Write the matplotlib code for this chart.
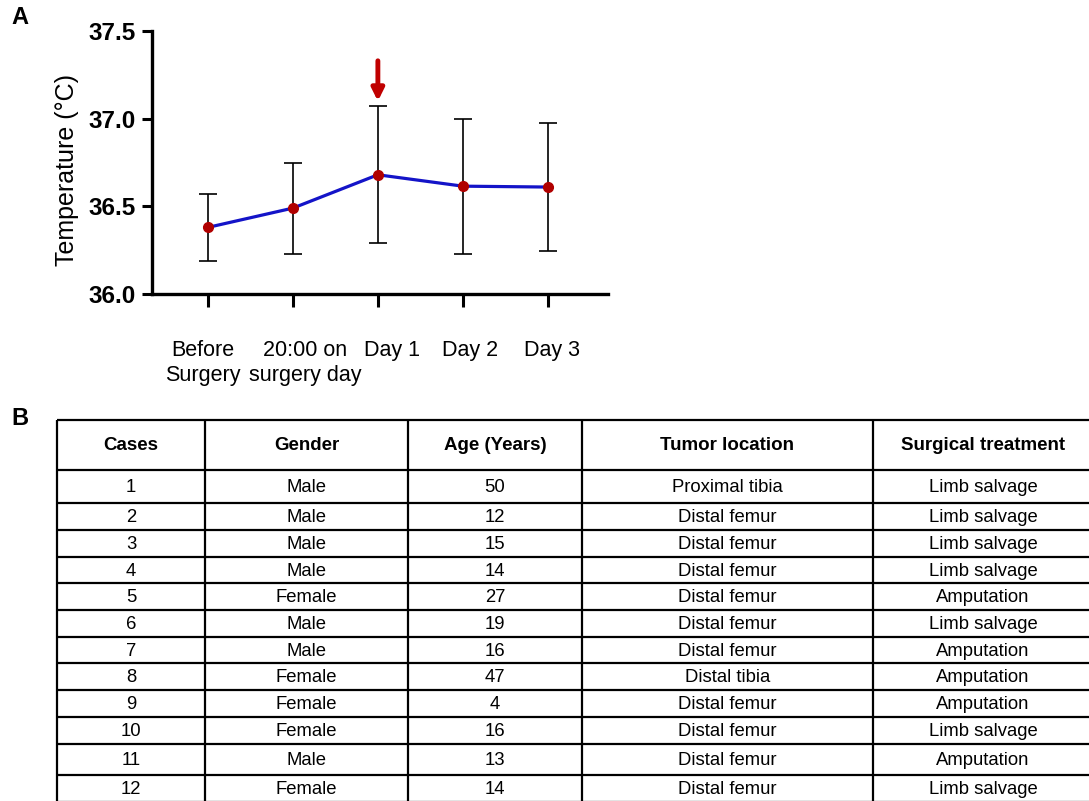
import numpy as np
import matplotlib.pyplot as plt
import matplotlib.transforms as mtransforms

plt.rcParams['font.family'] = ['Liberation Sans', 'DejaVu Sans']

# panel A data
time_labels = ['Before\nSurgery', '20:00 on\nsurgery day', 'Day 1', 'Day 2', 'Day 3']
temp_mean = [36.38, 36.49, 36.68, 36.615, 36.61]
temp_sd = [0.19, 0.26, 0.39, 0.385, 0.365]
label_shift_px = [-5, 12, 14, 7, 4]

# panel B data
col_names = ['Cases', 'Gender', 'Age (Years)', 'Tumor location', 'Surgical treatment']
cases = [str(i) for i in range(1, 13)]
gender = ['Male', 'Male', 'Male', 'Male', 'Female', 'Male', 'Male',
          'Female', 'Female', 'Female', 'Male', 'Female']
age = ['50', '12', '15', '14', '27', '19', '16', '47', '4', '16', '13', '14']
location = ['Proximal tibia', 'Distal femur', 'Distal femur', 'Distal femur',
            'Distal femur', 'Distal femur', 'Distal femur', 'Distal tibia',
            'Distal femur', 'Distal femur', 'Distal femur', 'Distal femur']
treatment = ['Limb salvage', 'Limb salvage', 'Limb salvage', 'Limb salvage',
             'Amputation', 'Limb salvage', 'Amputation', 'Amputation',
             'Amputation', 'Limb salvage', 'Amputation', 'Limb salvage']

W, H = 1089, 801
fig = plt.figure(figsize=(W / 100, H / 100), dpi=100)

# ---- A: temperature line plot
ax = fig.add_axes([152 / W, 1 - 294 / H, 456 / W, 263 / H])
x = np.arange(len(time_labels))
ax.errorbar(x, temp_mean, yerr=temp_sd, fmt='none', ecolor='black',
            elinewidth=1.2, capsize=6.5, capthick=1.2, zorder=2)
ax.plot(x, temp_mean, color='#1414c8', lw=2.3, zorder=3)
ax.plot(x, temp_mean, 'o', color='#b00000', ms=7, zorder=4)

ax.annotate('', xy=(2, 37.1), xytext=(2, 37.33),
            arrowprops=dict(arrowstyle='-|>', color='#c00000', lw=3.5,
                            mutation_scale=18, shrinkA=0, shrinkB=0))

ax.set_xlim(-0.66, 4.71)
ax.set_ylim(36.0, 37.5)
ax.set_yticks([36.0, 36.5, 37.0, 37.5])
ax.set_yticklabels(['36.0', '36.5', '37.0', '37.5'], fontweight='bold', fontsize=17.5)
ax.set_xticks(x)
ax.set_xticklabels([])
# x labels drawn as texts so each can be nudged like in the original figure
base = ax.get_xaxis_transform()
for xi, lab, dx in zip(x, time_labels, label_shift_px):
    tr = base + mtransforms.ScaledTranslation(dx / 100, -0.46, fig.dpi_scale_trans)
    ax.text(xi, 0, lab, transform=tr, ha='center', va='top',
            fontsize=15.5, linespacing=1.25)
ax.tick_params(axis='x', length=9, width=2.2)
ax.tick_params(axis='y', length=7, width=2.2, pad=5)
for s in ['top', 'right']:
    ax.spines[s].set_visible(False)
for s in ['left', 'bottom']:
    ax.spines[s].set_linewidth(2.4)
ax.set_ylabel('Temperature (°C)', fontsize=18)
ax.yaxis.set_label_coords(-0.16, 0.47)

fig.text(11 / W, 1 - 18 / H, 'A', fontsize=17, fontweight='bold', va='center')
fig.text(11 / W, 1 - 418 / H, 'B', fontsize=17, fontweight='bold', va='center')

# ---- B: patient table drawn on a pixel canvas
tax = fig.add_axes([0, 0, 1, 1])
tax.set_xlim(0, W)
tax.set_ylim(H, 0)
tax.axis('off')

col_edges = np.cumsum([57, 148, 203, 174, 291, 220])
row_heights = [50, 33, 27, 27, 26, 27, 27, 26, 27, 27, 27, 31, 27]
row_edges = 420 + np.concatenate([[0], np.cumsum(row_heights)])

columns = [cases, gender, age, location, treatment]
for r in range(len(row_heights)):
    yc = (row_edges[r] + row_edges[r + 1]) / 2
    for c in range(len(col_names)):
        xc = (col_edges[c] + col_edges[c + 1]) / 2
        if r == 0:
            tax.text(xc, yc, col_names[c], ha='center', va='center',
                     fontsize=13.5, fontweight='bold')
        else:
            tax.text(xc, yc + 1, columns[c][r - 1], ha='center', va='center',
                     fontsize=13.3)

tax.hlines(row_edges, col_edges[0], col_edges[-1], color='black', lw=1.6)
tax.vlines(col_edges[:-1], row_edges[0], row_edges[-1], color='black', lw=1.6)

fig.savefig('out.png', dpi=100)
